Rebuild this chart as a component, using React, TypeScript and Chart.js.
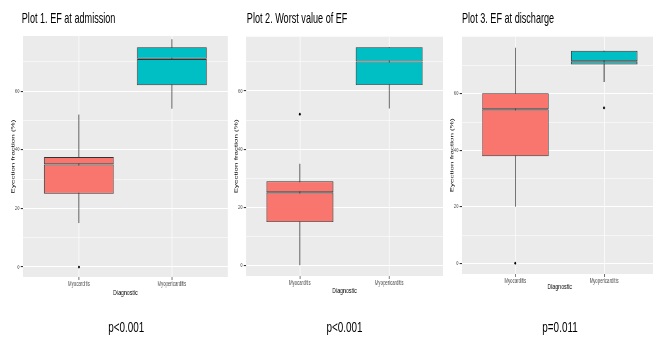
import React, { useEffect, useRef } from 'react';
import { Chart, registerables } from 'chart.js';

Chart.register(...registerables);

// ---------- data ----------
const categories = ['Myocarditis', 'Myopericarditis'];
const categoryX = [1, 2];
const fillColors = ['#F8766D', '#00BFC4'];

const plotTitles = ['Plot 1. EF at admission', 'Plot 2. Worst value of EF', 'Plot 3. EF at discharge'];
const pValues = ['p<0.001', 'p<0.001', 'p=0.011'];

// Plot 1. EF at admission
const admissionLow = [15, 54];
const admissionQ1 = [25, 62];
const admissionMedian = [35, 71];
const admissionQ3 = [37.5, 75];
const admissionHigh = [52, 77.7];
const admissionOutliers = [[0], []];

// Plot 2. Worst value of EF
const worstLow = [0, 54];
const worstQ1 = [15, 62];
const worstMedian = [25.2, 70.1];
const worstQ3 = [29, 75];
const worstHigh = [35, 75];
const worstOutliers = [[52], []];

// Plot 3. EF at discharge
const dischargeLow = [20, 64.2];
const dischargeQ1 = [37.9, 70.4];
const dischargeMedian = [54.5, 71.5];
const dischargeQ3 = [60.2, 75.2];
const dischargeHigh = [76.3, 75.2];
const dischargeOutliers = [[0], [55]];

const yGridTicks = [0, 10, 20, 30, 40, 50, 60, 70];
const yLabelledTicks = [0, 20, 40, 60];

const xTitle = 'Diagnostic';
const yTitle = 'Eyection fraction (%)';

// ---------- layout ----------
const S = 0.66; // horizontal compression of the whole figure
const FONT = "'Liberation Sans', Arial, Helvetica, sans-serif";
const YW = 35;

const plots = [
  { low: admissionLow, q1: admissionQ1, med: admissionMedian, q3: admissionQ3, high: admissionHigh, out: admissionOutliers,
    L: 23, R: 229, T: 36, B: 277, yMin: -3.4, yMax: 78.8, titleY: 292.7, titleX: 22, pX: 126.3 },
  { low: worstLow, q1: worstQ1, med: worstMedian, q3: worstQ3, high: worstHigh, out: worstOutliers,
    L: 246, R: 444, T: 36.7, B: 276, yMin: -3.5, yMax: 78.6, titleY: 290.7, titleX: 246.7, pX: 344.5 },
  { low: dischargeLow, q1: dischargeQ1, med: dischargeMedian, q3: dischargeQ3, high: dischargeHigh, out: dischargeOutliers,
    L: 462, R: 658.5, T: 36.7, B: 274, yMin: -3.8, yMax: 80.2, titleY: 287.3, titleX: 462.3, pX: 560 },
];

const panelBg = {
  id: 'panelBg',
  beforeDraw(chart: any) {
    const { ctx, chartArea } = chart;
    ctx.save();
    ctx.fillStyle = '#EBEBEB';
    ctx.fillRect(chartArea.left, chartArea.top, chartArea.right - chartArea.left, chartArea.bottom - chartArea.top);
    ctx.restore();
  },
};

function BoxPanel({ p }: { p: any }) {
  const ref = useRef<HTMLCanvasElement>(null);
  const left = p.L / S - YW;
  const width = Math.round(p.R / S + 2 - left);
  const height = Math.round(p.titleY + 4.8);
  const xh = height - p.B;

  useEffect(() => {
    if (!ref.current) return;
    const range = (a: number[], b: number[]) => categoryX.map((x, i) => ({ x, y: [a[i], b[i]] }));
    const outlierPts: any[] = [];
    p.out.forEach((list: number[], i: number) => list.forEach((v) => outlierPts.push({ x: categoryX[i], y: v })));

    const boxCommon = {
      backgroundColor: fillColors,
      borderColor: '#333333',
      borderSkipped: false,
      grouped: false,
      inflateAmount: 0,
      barPercentage: 0.75,
      categoryPercentage: 1,
    };

    const chart = new Chart(ref.current, {
      type: 'bar',
      data: {
        datasets: [
          {
            type: 'scatter',
            data: outlierPts,
            pointRadius: 1.4,
            pointBackgroundColor: '#000',
            pointBorderWidth: 0,
            order: 0,
          } as any,
          {
            ...boxCommon,
            data: range(p.med, p.q3),
            borderWidth: { top: 0.9, bottom: 1.1, left: 1.2, right: 1.2 },
            order: 1,
          } as any,
          {
            ...boxCommon,
            data: range(p.q1, p.med),
            borderWidth: { top: 1.1, bottom: 0.9, left: 1.2, right: 1.2 },
            order: 2,
          } as any,
          {
            data: range(p.low, p.high),
            backgroundColor: '#333333',
            borderWidth: 0,
            barThickness: 1.3,
            grouped: false,
            inflateAmount: 0,
            order: 3,
          } as any,
        ],
      },
      options: {
        animation: false,
        responsive: false,
        events: [],
        layout: { padding: { top: p.T, right: 2, bottom: 0, left: 0 } },
        plugins: { legend: { display: false }, tooltip: { enabled: false }, title: { display: false } },
        scales: {
          x: {
            type: 'linear',
            offset: false,
            min: 0.4,
            max: 2.6,
            afterBuildTicks: (scale: any) => {
              scale.ticks = categoryX.map((v) => ({ value: v }));
            },
            afterFit: (scale: any) => {
              scale.height = xh;
            },
            ticks: {
              autoSkip: false,
              maxRotation: 0,
              padding: 0,
              color: '#4D4D4D',
              font: { family: FONT, size: 6.5 },
              callback: (v: any) => categories[categoryX.indexOf(Number(v))] ?? '',
            },
            grid: { offset: false, color: '#FFFFFF', lineWidth: 1.2, tickColor: '#333333', tickLength: 3, drawTicks: true },
            border: { display: false },
            title: { display: true, text: xTitle, color: '#000', font: { family: FONT, size: 8 }, padding: { top: 0, bottom: 0 } },
          },
          y: {
            type: 'linear',
            min: p.yMin,
            max: p.yMax,
            afterBuildTicks: (scale: any) => {
              scale.ticks = yGridTicks.map((v) => ({ value: v }));
            },
            afterFit: (scale: any) => {
              scale.width = YW;
            },
            ticks: {
              autoSkip: false,
              padding: 2,
              color: '#4D4D4D',
              font: { family: FONT, size: 6 },
              callback: (v: any) => (yLabelledTicks.includes(Number(v)) ? String(v) : ''),
            },
            grid: {
              color: '#FFFFFF',
              lineWidth: (c: any) => (yLabelledTicks.includes(c.tick?.value) ? 1.1 : 0.55),
              tickColor: (c: any) => (yLabelledTicks.includes(c.tick?.value) ? '#333333' : 'rgba(0,0,0,0)'),
              tickLength: 3.5,
              drawTicks: true,
            },
            border: { display: false },
            title: { display: true, text: yTitle, color: '#000', font: { family: FONT, size: 8 }, padding: { top: 14.6, bottom: 0 } },
          },
        },
      } as any,
      plugins: [panelBg],
    });
    return () => chart.destroy();
  }, []);

  return (
    <canvas
      ref={ref}
      width={width}
      height={height}
      style={{ position: 'absolute', left, top: 0, width, height }}
    />
  );
}

export default function App() {
  return (
    <div style={{ position: 'fixed', left: 0, top: 0, width: 653, height: 338, overflow: 'hidden', background: '#FFFFFF' }}>
      <div
        style={{
          position: 'absolute',
          left: 0,
          top: 0,
          width: 653 / S,
          height: 338,
          transform: `scaleX(${S})`,
          transformOrigin: '0 0',
          fontFamily: FONT,
        }}
      >
        {plots.map((p, i) => (
          <React.Fragment key={i}>
            <BoxPanel p={p} />
            <div
              style={{
                position: 'absolute',
                left: p.titleX / S,
                top: 9.8,
                fontSize: 15,
                lineHeight: '15px',
                whiteSpace: 'nowrap',
                color: '#000',
                transform: 'scaleX(0.92)',
                transformOrigin: '0 0',
              }}
            >
              {plotTitles[i]}
            </div>
            <div
              style={{
                position: 'absolute',
                left: p.pX / S,
                top: 318.8,
                transform: 'translateX(-50%)',
                fontSize: 15,
                lineHeight: '15px',
                whiteSpace: 'nowrap',
                color: '#000',
              }}
            >
              {pValues[i]}
            </div>
          </React.Fragment>
        ))}
      </div>
    </div>
  );
}
